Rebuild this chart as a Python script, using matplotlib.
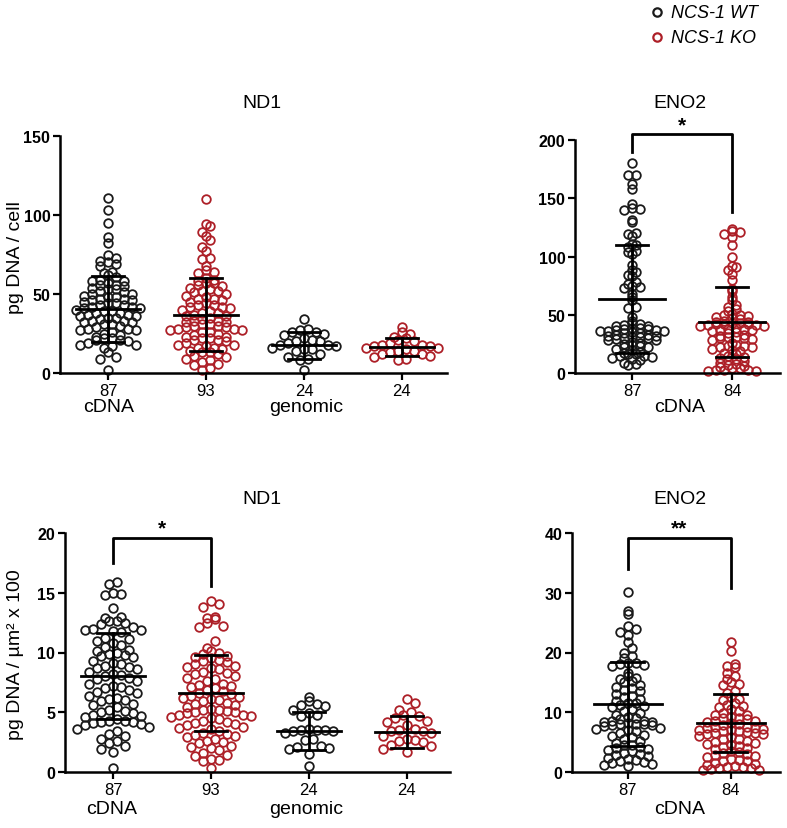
import numpy as np
import matplotlib
matplotlib.use("Agg")
import matplotlib.pyplot as plt

plt.rcParams['font.family'] = ['Liberation Sans', 'DejaVu Sans']

WT_COLOR = '#1a1a1a'
KO_COLOR = '#ad1f27'

# ---- pg DNA / cell, ND1 ----
nd1_cell_wt_cdna = [111, 103, 95, 86, 82, 75, 73, 71, 70, 69, 68,
                    62, 63, 64, 61, 59, 58, 57, 56, 56, 55, 58,
                    54, 53, 52, 51, 50, 50, 53, 49, 48, 47, 46, 45, 47, 48, 46,
                    44, 43, 42, 41, 40, 43, 41, 42, 44,
                    39, 38, 37, 36, 35, 38, 37, 36, 39, 35,
                    34, 33, 32, 31, 30, 33, 32, 31,
                    29, 28, 27, 26, 25, 28, 27, 24, 23, 22, 21, 20, 22, 21,
                    19, 18, 17, 16, 18, 13, 10, 9, 2]
nd1_cell_ko_cdna = [110, 94, 93, 89, 87, 84, 80, 77, 73, 72, 68, 65, 64, 63,
                    60, 59, 58, 57, 56, 55, 57, 54, 53, 52, 51, 50, 52,
                    49, 48, 47, 46, 45, 47, 44, 43, 42, 41, 40, 43, 42,
                    39, 38, 37, 36, 35, 38, 36, 34, 33, 32, 31, 30, 33, 32, 31,
                    29, 28, 27, 26, 25, 29, 28, 27, 26, 30,
                    24, 23, 22, 21, 20, 23, 22, 21, 19, 18, 17, 16, 15, 18, 16,
                    14, 13, 12, 11, 10, 13, 9, 8, 7, 6, 5, 3, 2]
nd1_cell_wt_gen = [34, 28, 27, 26, 26, 25, 24, 22, 21, 20, 20, 19,
                   18, 18, 17, 16, 15, 15, 14, 12, 10, 9, 8, 2]
nd1_cell_ko_gen = [29, 26, 25, 23, 22, 21, 20, 19, 18, 18, 17, 17,
                   16, 16, 15, 14, 14, 13, 12, 12, 11, 10, 9, 8]

# ---- pg DNA / cell, ENO2 ----
eno2_cell_wt = [180, 170, 170, 162, 158, 145, 142, 141, 140, 131, 130, 120, 119, 118,
                111, 110, 108, 105, 104, 102, 93, 88, 87, 84, 83, 78, 76, 75, 74, 73,
                68, 65, 63, 57, 56, 48, 45, 43, 42, 41, 40, 40,
                39, 38, 37, 37, 36, 36, 35, 38, 39, 36,
                34, 33, 32, 31, 30, 30, 33, 32, 31, 34,
                29, 28, 27, 26, 25, 28, 24, 23, 22, 21, 20, 22,
                18, 17, 16, 15, 16, 15, 14, 13, 12, 11, 9, 8, 7]
eno2_cell_ko = [124, 122, 121, 119, 117, 110, 100, 92, 91, 88, 85, 80, 72, 70,
                65, 63, 58, 57, 55, 53, 51, 50, 49, 48, 47, 46, 45, 50,
                44, 43, 42, 41, 40, 43, 42, 41, 44, 40, 42,
                39, 38, 37, 36, 35, 38, 37, 34, 32, 31, 30, 29, 31, 30, 33, 28,
                26, 24, 23, 22, 21, 20, 22, 23, 19, 17, 15, 14, 13, 12, 16,
                10, 9, 8, 5, 4, 3, 3, 2, 2, 3, 4, 6, 7, 11]

# ---- pg DNA / um2 x 100, ND1 ----
nd1_area_wt_cdna = [15.9, 15.7, 15.0, 14.8, 14.9, 13.7,
                    13.0, 12.9, 12.6, 12.5, 12.4, 12.6,
                    12.0, 11.9, 11.8, 11.7, 11.9, 12.1,
                    11.2, 11.0, 10.8, 10.6, 10.5, 11.1,
                    10.2, 10.0, 9.9, 9.8, 9.7, 9.6, 10.1,
                    9.3, 9.1, 8.9, 8.8, 8.6, 9.0, 8.7,
                    8.4, 8.2, 8.0, 7.9, 7.8, 7.6, 8.1,
                    7.4, 7.2, 7.0, 6.9, 6.7, 6.6, 7.1,
                    6.4, 6.2, 6.0, 5.9, 5.7, 5.6, 6.1,
                    5.4, 5.2, 5.0, 4.9, 4.8, 4.7, 4.6, 5.1,
                    4.4, 4.3, 4.2, 4.1, 4.0, 3.9, 4.3, 4.2, 3.8, 3.6,
                    3.4, 3.2, 3.0, 2.8, 2.6, 2.2, 1.9, 1.7, 2.4, 0.3]
nd1_area_ko_cdna = [14.3, 14.1, 13.8, 13.0, 12.9, 12.8, 12.5, 12.2, 12.1, 11.0,
                    10.4, 10.1, 9.9, 9.7, 9.5, 10.0, 9.6,
                    9.4, 9.2, 9.0, 8.8, 8.6, 9.3, 8.9, 8.7,
                    8.4, 8.2, 8.0, 7.8, 7.6, 8.3, 7.9,
                    7.4, 7.2, 7.0, 6.8, 6.6, 7.3, 6.9, 7.1,
                    6.4, 6.2, 6.0, 5.8, 5.6, 6.3, 5.9, 6.1, 5.7,
                    5.4, 5.3, 5.2, 5.1, 5.0, 4.9, 4.8, 4.7, 4.6, 5.2, 5.0, 4.8,
                    4.4, 4.2, 4.0, 3.8, 3.6, 4.3, 3.9, 4.1, 3.7,
                    3.4, 3.2, 3.0, 2.8, 2.6, 3.3, 2.9,
                    2.4, 2.2, 2.0, 1.8, 1.6, 2.1,
                    1.3, 1.1, 0.9, 1.4, 0.3, 1.0, 2.5, 3.1, 4.5, 6.5]
nd1_area_wt_gen = [6.3, 5.9, 5.7, 5.6, 5.5, 5.2, 4.9, 4.8, 4.7, 3.6, 3.5, 3.5,
                   3.4, 3.4, 3.3, 3.5, 2.8, 2.7, 2.2, 2.1, 1.9, 2.0, 1.5, 0.5]
nd1_area_ko_gen = [6.1, 5.8, 5.2, 5.0, 4.8, 4.7, 4.5, 4.3, 4.2, 3.9, 3.6, 3.5,
                   3.4, 3.4, 3.3, 3.0, 2.8, 2.7, 2.6, 2.5, 2.3, 2.2, 1.9, 1.7]

# ---- pg DNA / um2 x 100, ENO2 ----
eno2_area_wt = [30.2, 27.0, 26.5, 24.5, 24.0, 23.5, 23.0, 21.8, 20.8, 20.0,
                19.4, 19.0, 18.2, 18.0, 17.8, 18.3, 17.9,
                16.5, 15.8, 15.5, 15.0, 15.2, 16.0,
                14.5, 14.0, 13.5, 13.0, 12.5, 12.2, 13.8, 12.8, 14.2,
                11.8, 11.5, 11.2, 11.0, 10.5, 10.2, 11.6, 10.8,
                9.8, 9.5, 9.0, 8.8, 8.5, 8.3, 8.2, 8.1, 8.0, 8.0, 7.9, 7.8, 7.7, 8.4, 8.6, 9.2,
                7.2, 7.0, 6.8, 6.5, 6.2, 6.0, 5.8, 5.5, 5.2, 7.3,
                4.8, 4.5, 4.2, 4.0, 3.8, 3.5, 3.2, 3.0, 2.8, 2.6, 4.6, 3.6,
                2.2, 1.8, 1.5, 1.2, 2.0, 1.6, 2.4, 1.3, 1.0]
eno2_area_ko = [21.8, 20.3, 18.0, 17.8, 17.5, 16.5, 16.0, 15.5, 15.0, 14.8, 14.5, 13.5, 13.2,
                12.5, 12.0, 11.5, 11.0, 10.5, 10.2, 12.2, 11.2, 10.8,
                9.8, 9.5, 9.2, 9.0, 8.8, 8.6, 8.4, 8.2, 8.0, 9.6, 9.1, 8.5,
                7.8, 7.6, 7.5, 7.3, 7.1, 7.0, 6.9, 6.8, 6.7, 6.6, 6.5, 6.3, 6.1, 7.4, 7.2, 6.4,
                5.8, 5.5, 5.2, 5.0, 4.8, 4.5, 4.2, 4.0, 5.6, 4.4, 4.7,
                3.8, 3.5, 3.2, 3.0, 2.8, 2.5, 2.2, 2.0, 3.4, 2.6,
                1.8, 1.5, 1.2, 1.0, 0.8, 0.6, 0.5, 0.4, 0.3, 0.8, 1.4, 1.9, 0.6]

# mean and SD as shown by the bars
nd1_cell_mean = [40.5, 37, 17.5, 16.5]
nd1_cell_sd = [21, 23, 8.5, 5.5]
eno2_cell_mean = [63.5, 44]
eno2_cell_sd = [46, 30]
nd1_area_mean = [8.0, 6.6, 3.45, 3.35]
nd1_area_sd = [3.6, 3.2, 1.6, 1.3]
eno2_area_mean = [11.4, 8.2]
eno2_area_sd = [7.0, 4.8]

n_labels_nd1 = ['87', '93', '24', '24']
n_labels_eno2 = ['87', '84']

W, H = 787, 829
fig = plt.figure(figsize=(W / 100, H / 100), dpi=100)

# overlay in pixel coordinates for free text
ov = fig.add_axes([0, 0, 1, 1])
ov.set_xlim(0, W)
ov.set_ylim(H, 0)
ov.axis('off')


def add_ax(x0, x1, y_top, y_bot):
    return fig.add_axes([x0 / W, 1 - y_bot / H, (x1 - x0) / W, (y_bot - y_top) / H])


def rows(ypix, h, d):
    # GraphPad-like scatter: points in the same horizontal band sit side by side,
    # lowest values in the middle, spreading out alternately to each side
    xs = np.zeros(len(ypix))
    bins = np.floor(ypix / h).astype(int)
    for b in np.unique(bins):
        idx = np.where(bins == b)[0]
        idx = idx[np.argsort(-ypix[idx])]
        k = len(idx)
        start = 0.0 if k % 2 else 0.5
        for j, i in enumerate(idx):
            step = (j + 1) // 2
            side = 1 if j % 2 else -1
            xs[i] = (start + step) * side * d if k % 2 else (start + j // 2) * (1 if j % 2 == 0 else -1) * d
    return xs


def dots(ax, xc, vals, color, mean, sd, h):
    vals = np.asarray(vals, dtype=float)
    pts = ax.transData.transform(np.column_stack([np.full(len(vals), xc), vals]))
    pts[:, 0] += rows(pts[:, 1], h, 8.0)
    data = ax.transData.inverted().transform(pts)
    ax.plot(data[:, 0], data[:, 1], 'o', ms=6.2, mfc='none', mec=color, mew=1.3,
            clip_on=False, zorder=2)
    ax.plot([xc - 0.33, xc + 0.33], [mean, mean], color='black', lw=2, zorder=3)
    ax.plot([xc, xc], [mean - sd, mean + sd], color='black', lw=2, zorder=3)
    for v in (mean - sd, mean + sd):
        ax.plot([xc - 0.16, xc + 0.16], [v, v], color='black', lw=2, zorder=3)


def style(ax, ymax, step, labels):
    ax.set_ylim(0, ymax)
    ax.set_yticks(np.arange(0, ymax + 0.01, step))
    ax.set_xticks(range(1, len(labels) + 1))
    ax.set_xticklabels(labels, fontsize=12)
    for s in ('top', 'right'):
        ax.spines[s].set_visible(False)
    for s in ('left', 'bottom'):
        ax.spines[s].set_linewidth(1.8)
    ax.tick_params(direction='out', length=5, width=1.6, pad=2)
    for t in ax.get_yticklabels():
        t.set_fontweight('bold')
        t.set_fontsize(11.5)
    ax.patch.set_alpha(0)


def bracket(ax, x1, x2, top, l1, l2, text):
    ax.plot([x1, x1, x2, x2], [l1, top, top, l2], color='black', lw=2, clip_on=False)
    ax.text((x1 + x2) / 2, top, text, ha='center', va='bottom', fontsize=15,
            fontweight='bold')


colors4 = [WT_COLOR, KO_COLOR, WT_COLOR, KO_COLOR]

# top-left: ND1 per cell
ax1 = add_ax(60, 447, 137, 374)
ax1.set_xlim(0.51, 4.46)
style(ax1, 150, 50, n_labels_nd1)
for i, (v, c, h) in enumerate(zip([nd1_cell_wt_cdna, nd1_cell_ko_cdna, nd1_cell_wt_gen,
                                   nd1_cell_ko_gen], colors4, [7, 7, 10, 10])):
    dots(ax1, i + 1, v, c, nd1_cell_mean[i], nd1_cell_sd[i], h)

# top-right: ENO2 per cell
ax2 = add_ax(575, 780, 141, 374)
ax2.set_xlim(0.43, 2.48)
style(ax2, 200, 50, n_labels_eno2)
for i, (v, c) in enumerate(zip([eno2_cell_wt, eno2_cell_ko], colors4)):
    dots(ax2, i + 1, v, c, eno2_cell_mean[i], eno2_cell_sd[i], 4.6)
bracket(ax2, 1, 2, 205, 190, 138, '*')

# bottom-left: ND1 per area
ax3 = add_ax(65, 450, 534, 773)
ax3.set_xlim(0.51, 4.44)
style(ax3, 20, 5, n_labels_nd1)
for i, (v, c, h) in enumerate(zip([nd1_area_wt_cdna, nd1_area_ko_cdna, nd1_area_wt_gen,
                                   nd1_area_ko_gen], colors4, [11, 10, 13, 13])):
    dots(ax3, i + 1, v, c, nd1_area_mean[i], nd1_area_sd[i], h)
bracket(ax3, 1, 2, 19.6, 17.5, 15.6, '*')

# bottom-right: ENO2 per area
ax4 = add_ax(572, 780, 534, 773)
ax4.set_xlim(0.46, 2.48)
style(ax4, 40, 10, n_labels_eno2)
for i, (v, c) in enumerate(zip([eno2_area_wt, eno2_area_ko], colors4)):
    dots(ax4, i + 1, v, c, eno2_area_mean[i], eno2_area_sd[i], 7)
bracket(ax4, 1, 2, 39.2, 34, 30.8, '**')

# titles and group labels
ov.text(262, 103, 'ND1', ha='center', va='center', fontsize=14)
ov.text(680, 103, 'ENO2', ha='center', va='center', fontsize=14)
ov.text(262, 500, 'ND1', ha='center', va='center', fontsize=14)
ov.text(680, 500, 'ENO2', ha='center', va='center', fontsize=14)
ov.text(109, 408, 'cDNA', ha='center', va='center', fontsize=14)
ov.text(306, 408, 'genomic', ha='center', va='center', fontsize=14)
ov.text(680, 408, 'cDNA', ha='center', va='center', fontsize=14)
ov.text(112, 810, 'cDNA', ha='center', va='center', fontsize=14)
ov.text(306, 810, 'genomic', ha='center', va='center', fontsize=14)
ov.text(680, 810, 'cDNA', ha='center', va='center', fontsize=14)
ov.text(16, 258, 'pg DNA / cell', ha='center', va='center', rotation=90, fontsize=14)
ov.text(16, 655, 'pg DNA / µm² x 100', ha='center', va='center', rotation=90, fontsize=14)

# legend
ov.plot([657], [13], 'o', ms=6, mfc='none', mec=WT_COLOR, mew=1.6)
ov.plot([657], [38], 'o', ms=6, mfc='none', mec=KO_COLOR, mew=1.6)
ov.text(671, 13, 'NCS-1 WT', ha='left', va='center', fontsize=13, style='italic')
ov.text(671, 38, 'NCS-1 KO', ha='left', va='center', fontsize=13, style='italic')

fig.savefig('out.png', dpi=100)
